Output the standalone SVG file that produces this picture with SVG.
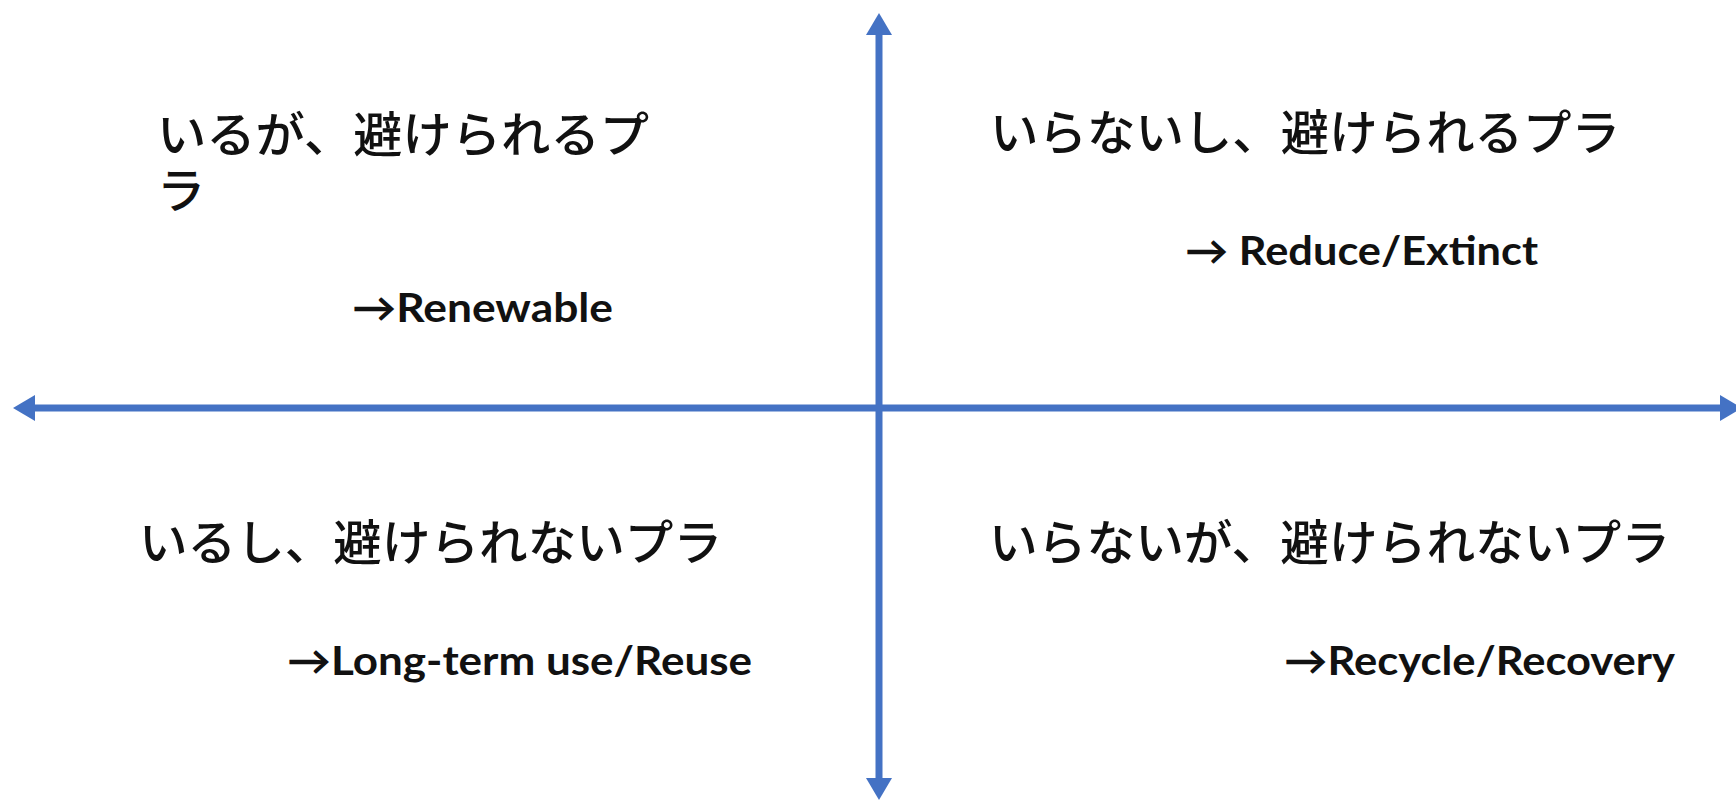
<svg xmlns="http://www.w3.org/2000/svg" width="1736" height="802" viewBox="0 0 1736 802">
  <style>
    .jp { font-family: "Noto Sans CJK JP", "Noto Sans", sans-serif; font-size: 48px; font-weight: 500; fill: #111111; }
    .en { font-family: Lato, "Liberation Sans", sans-serif; font-weight: bold; font-size: 40px; fill: #111111; }
    .axis { stroke: #4472C4; stroke-width: 7; fill: none; }
  </style>
  <defs>
    <marker id="head" markerUnits="userSpaceOnUse" markerWidth="22" markerHeight="26" refX="0" refY="13" orient="auto-start-reverse" viewBox="0 0 22 26">
      <path d="M0,0 L22,13 L0,26 z" fill="#4472C4"/>
    </marker>
  </defs>
  <rect width="1736" height="802" fill="#ffffff"/>

  <g id="connectors">
    <line class="axis" x1="879" y1="35" x2="879" y2="778" marker-start="url(#head)" marker-end="url(#head)"/>
    <line class="axis" x1="35" y1="408" x2="1720" y2="408" marker-start="url(#head)" marker-end="url(#head)"/>
  </g>

  <g id="q-top-left">
    <text class="jp"><tspan x="157" y="152" textLength="492" lengthAdjust="spacingAndGlyphs">いるが、避けられるプ</tspan><tspan x="157" y="208">ラ</tspan></text>
    <text class="en" x="352" y="322" textLength="261" lengthAdjust="spacingAndGlyphs">→Renewable</text>
  </g>

  <g id="q-top-right">
    <text class="jp" x="990" y="150" textLength="630" lengthAdjust="spacingAndGlyphs">いらないし、避けられるプラ</text>
    <text class="en" x="1185" y="265" textLength="353" lengthAdjust="spacingAndGlyphs">→ Reduce/Extinct</text>
  </g>

  <g id="q-bottom-left">
    <text class="jp" x="139" y="560" textLength="583" lengthAdjust="spacingAndGlyphs">いるし、避けられないプラ</text>
    <text class="en" x="287" y="675" textLength="465" lengthAdjust="spacingAndGlyphs">→Long-term use/Reuse</text>
  </g>

  <g id="q-bottom-right">
    <text class="jp" x="989" y="560" textLength="681" lengthAdjust="spacingAndGlyphs">いらないが、避けられないプラ</text>
    <text class="en" x="1284" y="675" textLength="391" lengthAdjust="spacingAndGlyphs">→Recycle/Recovery</text>
  </g>
</svg>
